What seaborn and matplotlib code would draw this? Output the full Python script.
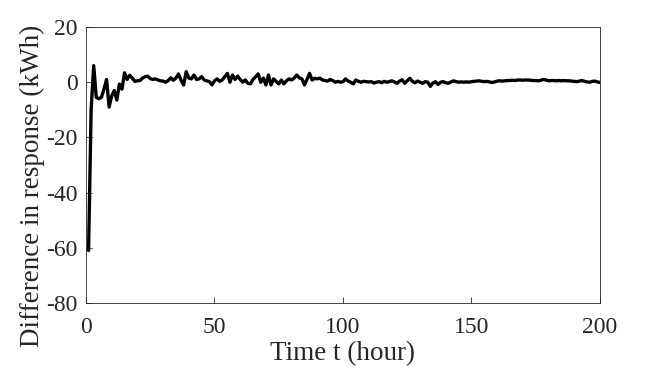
import numpy as np
import pandas as pd
import matplotlib
matplotlib.use("Agg")
import matplotlib.pyplot as plt
import seaborn as sns

hours = list(range(1, 201))
difference = [
    -61, -10, 6, -5.5, -6, -5.5, -2.5, 1, -9, -5,
    -3, -6.5, -0.7, -2.5, 3.4, 1, 2.5, 1.5, 0.3, 0.5,
    0.6, 1.5, 2.0, 2.2, 1.3, 1.0, 1.2, 0.8, 0.5, 0.4,
    0, 0.6, 1.6, 0.7, 1.5, 3.0, 0.7, -1, 3.8, 1.5,
    1.2, 2.6, 1.0, 1.2, 2.0, 0.8, 0.5, 0.2, -1, 0.5,
    1.2, 0.3, 0.8, 2.0, 3.2, 0, 2.6, 1.0, 2.2, 1.0,
    0, 0.8, -0.4, -0.6, 1.0, 2.0, 3.0, 0, 1.5, -1,
    2.6, -1, 1.2, 0.3, -0.6, 0.8, -0.6, 0.5, 1.2, 0.8,
    1.5, 2.6, 1.6, 1.2, -1, 1.0, 3.2, 0.8, 1.4, 1.2,
    1.5, 0.8, 0.6, 0.4, 1.0, 0.6, 0, 0.3, 0, 0.2,
    1.2, 0.4, 0, -0.6, 0.8, 0.3, 0, 0.3, 0.2, 0.1,
    0.2, -0.3, 0, 0.2, -0.2, 0.3, 0, 0.2, 0.5, 0.1,
    -0.4, 0.4, 0.9, -0.4, 0.5, 1.4, 0.3, -0.2, 0.4, 0,
    -0.4, 0.2, 0, -1.5, -0.3, 0.2, -0.8, 0, 0.2, -0.2,
    -0.4, 0.1, 0.5, 0.2, 0, 0.1, 0, 0.1, 0, 0.2,
    0.3, 0.4, 0.5, 0.3, 0.2, 0.3, 0.1, -0.1, 0.1, 0.4,
    0.5, 0.4, 0.5, 0.6, 0.6, 0.7, 0.6, 0.8, 0.8, 0.7,
    0.8, 0.8, 0.7, 0.6, 0.6, 0.5, 0.7, 1.0, 0.8, 0.5,
    0.6, 0.6, 0.5, 0.6, 0.5, 0.6, 0.5, 0.5, 0.4, 0.3,
    0.2, 0.4, 0.6, 0.3, 0.1, 0, 0.3, 0.4, 0.1, -0.1,
]
x_ticks = [0, 50, 100, 150, 200]
y_ticks = [-80, -60, -40, -20, 0, 20]
x_label = "Time t (hour)"
y_label = "Difference in response (kWh)"

df = pd.DataFrame({"t": hours, "diff": difference})

sns.set_style("white")
plt.rcParams["font.family"] = ["Liberation Serif", "DejaVu Serif"]
plt.rcParams["axes.unicode_minus"] = False

fig = plt.figure(figsize=(6.64, 3.69), dpi=100)
ax = fig.add_axes([0.1295, 0.179, 0.9036 - 0.1295, 0.9268 - 0.179])

sns.lineplot(data=df, x="t", y="diff", ax=ax, color="black", linewidth=2.4)

ax.set_xlim(0, 200)
ax.set_ylim(-80, 20)
ax.set_xticks(x_ticks, labels=[str(v) for v in x_ticks])
ax.set_yticks(y_ticks, labels=[str(v) for v in y_ticks])
ax.tick_params(direction="in", length=4, width=0.6, colors="#262626",
               labelsize=17, labelcolor="#262626", top=False, right=False,
               bottom=True, left=True)
ax.tick_params(axis="x", pad=10)
ax.tick_params(axis="y", pad=6)
for s in ax.spines.values():
    s.set_visible(True)
    s.set_color("#262626")
    s.set_linewidth(0.6)
ax.set_xlabel(x_label, fontsize=19.5, color="#262626", labelpad=2)
ax.set_ylabel(y_label, fontsize=19.5, color="#262626")
ax.yaxis.set_label_coords(-0.08, 0.424)

fig.savefig("out.png", dpi=100, facecolor="white")
